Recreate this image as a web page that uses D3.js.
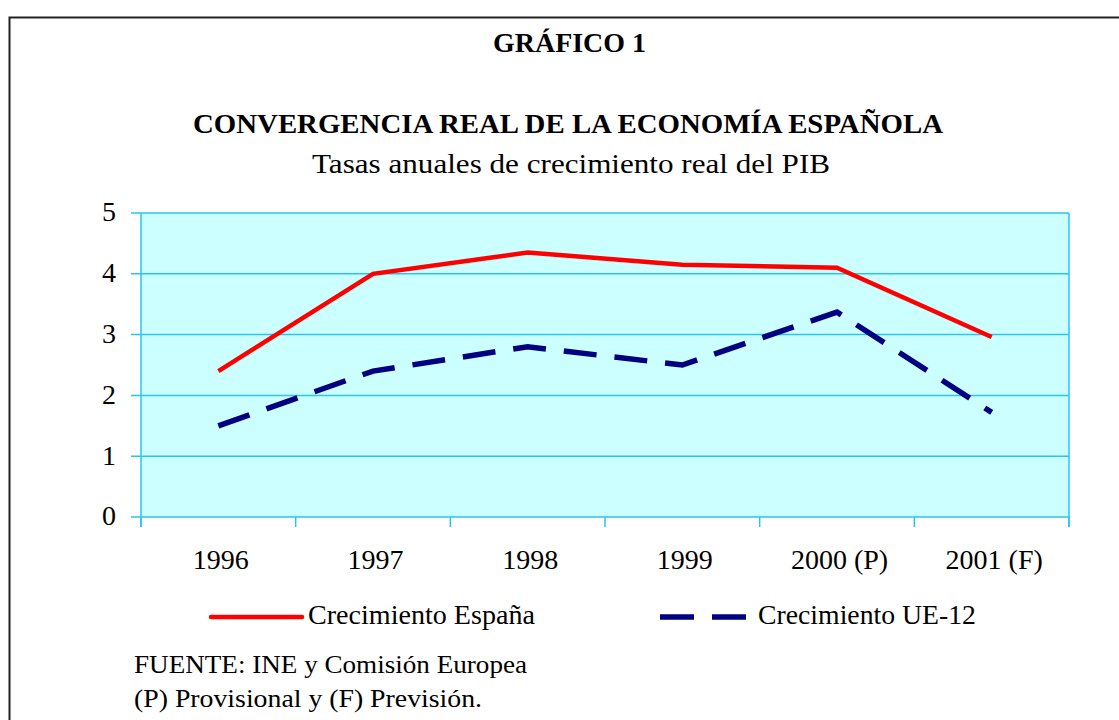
<!DOCTYPE html>
<html>
<head>
<meta charset="utf-8">
<script src="https://cdn.jsdelivr.net/npm/d3@7"></script>
<style>
html,body{margin:0;padding:0;background:#fff;}
svg{display:block;}
text{font-family:"Liberation Serif","Times New Roman",serif;fill:#000;}
</style>
</head>
<body>
<svg id="chart" width="1119" height="720"></svg>
<script>
const categories = ["1996", "1997", "1998", "1999", "2000 (P)", "2001 (F)"];
const espana = [2.4, 4.0, 4.35, 4.15, 4.1, 2.96];
const ue12 = [1.5, 2.4, 2.8, 2.5, 3.37, 1.72];
const yTicks = [0, 1, 2, 3, 4, 5];
const seriesNames = ["Crecimiento España", "Crecimiento UE-12"];
const titleText = "GRÁFICO 1";
const mainTitle = "CONVERGENCIA REAL DE LA ECONOMÍA ESPAÑOLA";
const subTitle = "Tasas anuales de crecimiento real del PIB";
const notes = ["FUENTE: INE y Comisión Europea", "(P) Provisional y (F) Previsión."];

const svg = d3.select("#chart");
const grid = "#29C5F0";

// outer frame
svg.append("path").attr("d", "M9.5,720 L9.5,17.5 L1125,17.5")
  .attr("fill", "none").attr("stroke", "#222").attr("stroke-width", 2);

// titles
svg.append("text").attr("x", 493).attr("y", 52).attr("font-size", 28).attr("font-weight", "bold")
  .attr("textLength", 153).attr("lengthAdjust", "spacingAndGlyphs").text(titleText);
svg.append("text").attr("x", 193).attr("y", 133).attr("font-size", 28).attr("font-weight", "bold")
  .attr("textLength", 750).attr("lengthAdjust", "spacingAndGlyphs").text(mainTitle);
svg.append("text").attr("x", 312).attr("y", 173).attr("font-size", 28)
  .attr("textLength", 518).attr("lengthAdjust", "spacingAndGlyphs").text(subTitle);

const x = d3.scaleBand().domain(categories).range([141, 1069]).paddingInner(0).paddingOuter(0);
const y = d3.scaleLinear().domain([0, 5]).range([517, 213]);
const cx = c => x(c) + x.bandwidth() / 2;

// plot background
svg.append("rect").attr("x", 141).attr("y", y(5)).attr("width", 1069 - 141).attr("height", y(0) - y(5))
  .attr("fill", "#CCFFFF");

// gridlines
svg.append("g").selectAll("line").data(yTicks).join("line")
  .attr("x1", 131).attr("x2", 1069).attr("y1", d => y(d)).attr("y2", d => y(d))
  .attr("stroke", grid).attr("stroke-width", 1.5);

// plot left/right borders
svg.append("line").attr("x1", 141).attr("x2", 141).attr("y1", y(5)).attr("y2", 527).attr("stroke", grid).attr("stroke-width", 1.5);
svg.append("line").attr("x1", 1069).attr("x2", 1069).attr("y1", y(5)).attr("y2", 527).attr("stroke", grid).attr("stroke-width", 1.5);

// x ticks at band edges
const edges = categories.map(c => x(c)).concat([x.range()[1]]);
svg.append("g").selectAll("line").data(edges).join("line")
  .attr("x1", d => d).attr("x2", d => d).attr("y1", y(0)).attr("y2", 527)
  .attr("stroke", grid).attr("stroke-width", 1.5);

// y axis labels
const yAxis = d3.axisLeft(y).tickValues(yTicks).tickSize(0).tickPadding(0).tickFormat(d3.format("d"));
const gy = svg.append("g").attr("transform", "translate(116,0)").call(yAxis);
gy.select(".domain").remove();
gy.selectAll("text").attr("font-size", 28).attr("font-family", "Liberation Serif").attr("fill", "#000").attr("dy", "0.28em");

// x axis labels
const xAxis = d3.axisBottom(d3.scalePoint().domain(categories).range([cx(categories[0]), cx(categories[5])])).tickSize(0).tickPadding(0);
const gx = svg.append("g").attr("transform", "translate(2,0)").call(xAxis);
gx.select(".domain").remove();
gx.selectAll("text").attr("font-size", 28).attr("font-family", "Liberation Serif").attr("fill", "#000")
  .attr("y", 569).attr("dy", 0);

// lines
const lineGen = d3.line().x((d, i) => cx(categories[i])).y(d => y(d));
svg.append("path").datum(espana).attr("d", lineGen)
  .attr("fill", "none").attr("stroke", "#FF0000").attr("stroke-width", 4.5).attr("stroke-linejoin", "miter");
svg.append("path").datum(ue12).attr("d", lineGen)
  .attr("fill", "none").attr("stroke", "#000080").attr("stroke-width", 5.5)
  .attr("stroke-dasharray", "33,18").attr("stroke-linejoin", "miter");

// legend
svg.append("line").attr("x1", 211).attr("x2", 302).attr("y1", 617).attr("y2", 617)
  .attr("stroke", "#FF0000").attr("stroke-width", 4.5).attr("stroke-linecap", "round");
svg.append("text").attr("x", 308).attr("y", 624).attr("font-size", 28)
  .attr("textLength", 227).attr("lengthAdjust", "spacingAndGlyphs").text(seriesNames[0]);
svg.append("line").attr("x1", 660).attr("x2", 746).attr("y1", 617).attr("y2", 617)
  .attr("stroke", "#000080").attr("stroke-width", 5.5).attr("stroke-dasharray", "34,18");
svg.append("text").attr("x", 758).attr("y", 624).attr("font-size", 28)
  .attr("textLength", 218).attr("lengthAdjust", "spacingAndGlyphs").text(seriesNames[1]);

// notes
svg.append("text").attr("x", 134).attr("y", 673).attr("font-size", 25)
  .attr("textLength", 393).attr("lengthAdjust", "spacingAndGlyphs").text(notes[0]);
svg.append("text").attr("x", 134).attr("y", 707).attr("font-size", 25)
  .attr("textLength", 348).attr("lengthAdjust", "spacingAndGlyphs").text(notes[1]);
</script>
</body>
</html>
